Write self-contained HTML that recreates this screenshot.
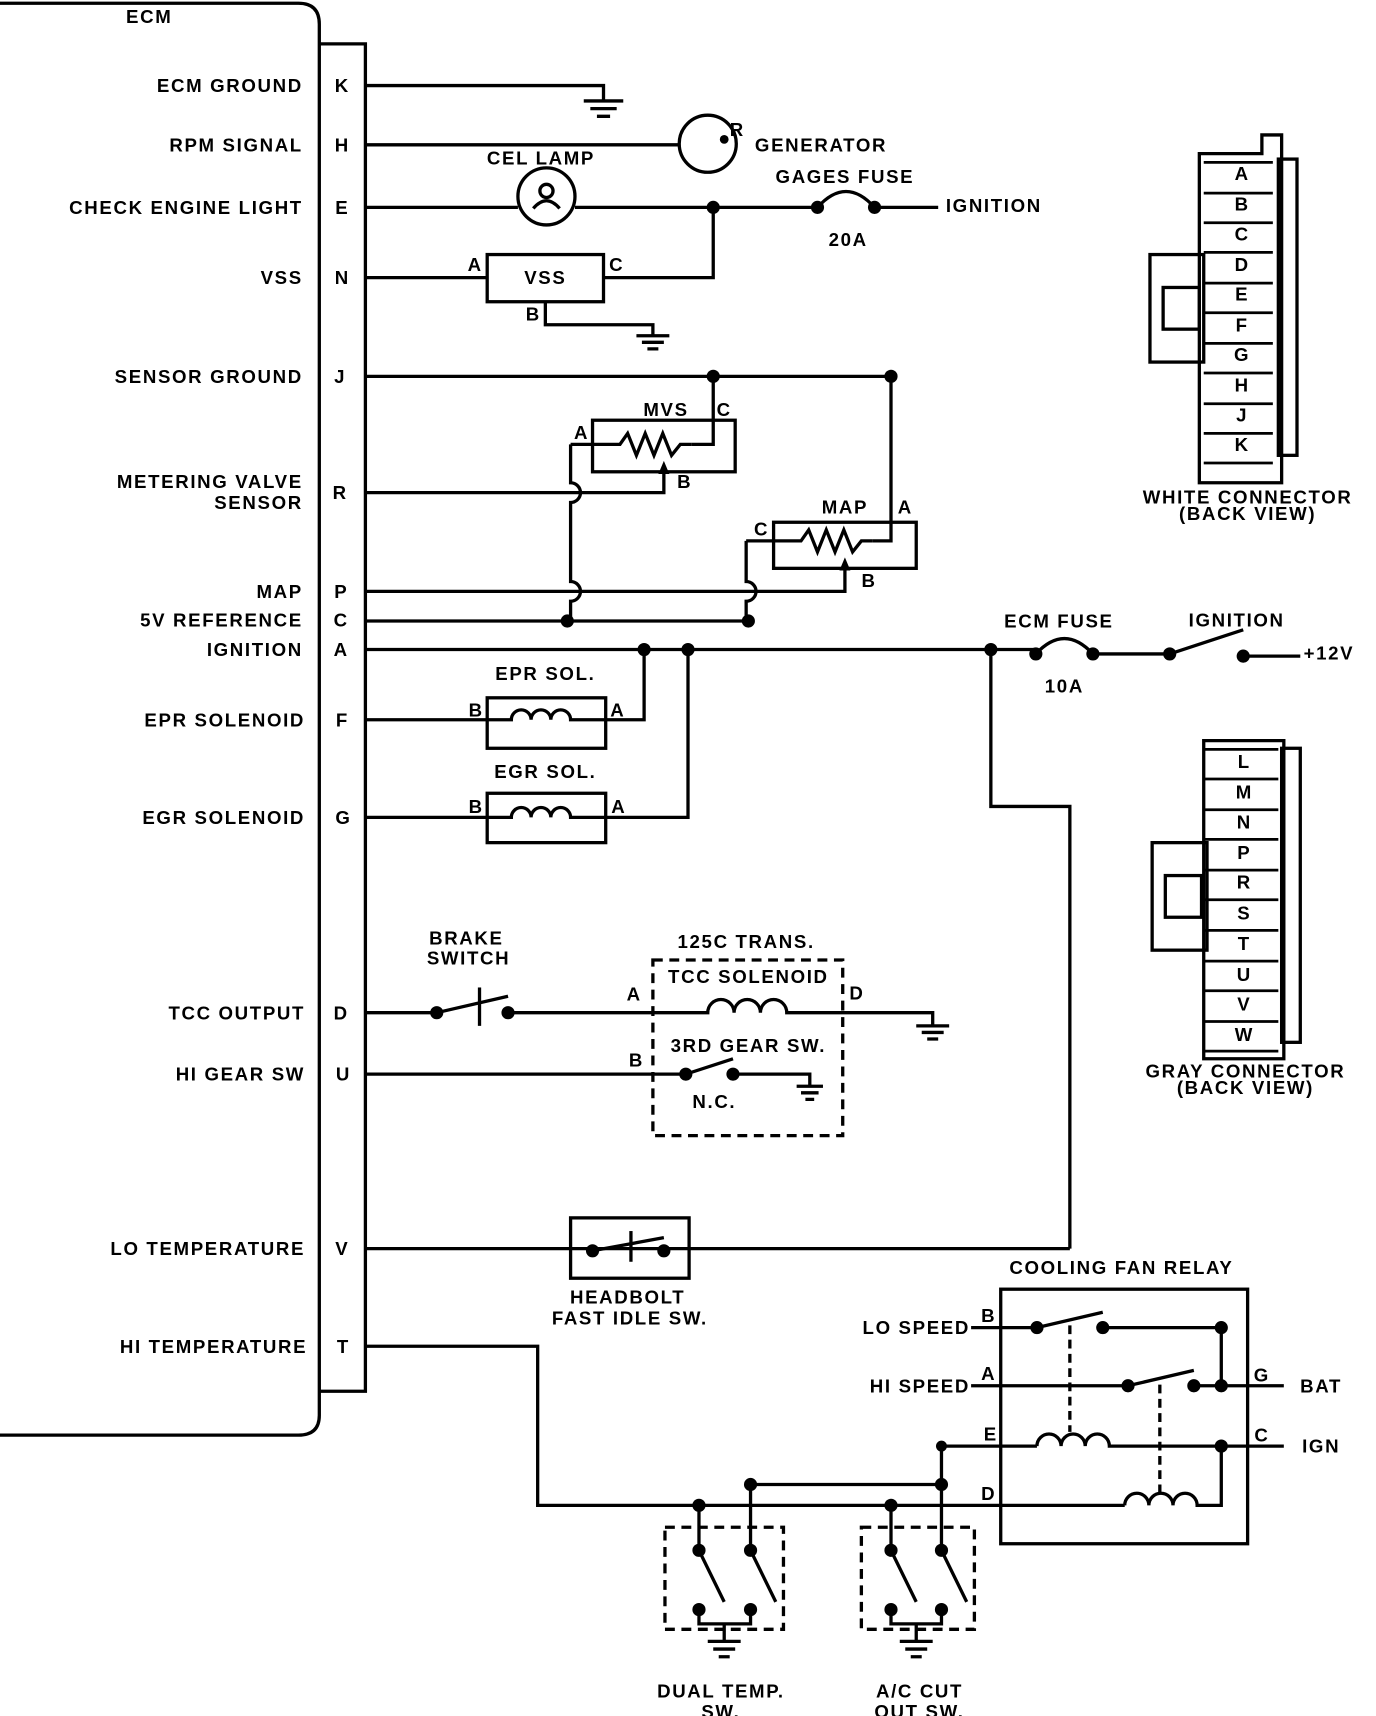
<!DOCTYPE html>
<html><head><meta charset="utf-8"><style>
html,body{margin:0;padding:0;background:#fff;}
svg{display:block}
text{font-family:"Liberation Sans",Arial,sans-serif;font-weight:bold;fill:#000;font-size:17px;letter-spacing:1.5px}
.l{text-anchor:end}
.m{text-anchor:middle}
</style></head><body>
<svg width="1376" height="1716" viewBox="0 0 1254 1564" preserveAspectRatio="none" xmlns="http://www.w3.org/2000/svg">
<g fill="none" stroke="#000" stroke-width="3">
<path d="M0 3 H272 Q291 3 291 22 V1290 Q291 1308 272 1308 H0"/>
<path d="M291 40 H333 V1268 H291"/>
<path d="M333 78 H550 V92"/><path d="M532 92 H568 M538 99 H562 M544 106 H556"/>
<path d="M333 132 H620"/><circle cx="645" cy="131" r="26"/>
<path d="M333 189 H472"/><circle cx="498" cy="179" r="26"/>
<circle cx="498" cy="174" r="6"/><path d="M486 190 Q498 176 510 190"/>
<path d="M524 189 H745"/><path d="M745 189 Q771 160 797 189"/><path d="M797 189 H855"/>
<path d="M333 253 H444"/><rect x="444" y="232" width="106" height="43"/>
<path d="M550 253 H650 V189"/><path d="M497 275 V296 H595 V306"/>
<path d="M580 306 H610 M585 312 H605 M590 318 H600"/>
<path d="M333 343 H812 V493 H795"/><path d="M650 343 V405 H630"/>
<rect x="540" y="383" width="130" height="47"/>
<path d="M520 405 H565 l7 -10 l8 20 l8 -20 l8 20 l8 -20 l8 20 l8 -10 H630"/>
<path d="M520 405 V440 a9 9 0 0 1 0 18 V530 a9 9 0 0 1 0 18 V566"/>
<path d="M333 449 H605 V430"/>
<rect x="705" y="476" width="130" height="42"/>
<path d="M680 493 H730 l7 -10 l8 20 l8 -20 l8 20 l8 -20 l8 20 l8 -10 H795"/>
<path d="M680 493 V530 a9 9 0 0 1 0 18 V566"/>
<path d="M333 539 H770 V518"/>
<path d="M333 566 H682"/>
<path d="M333 592 H944"/><path d="M944 596 Q970 568 996 596"/><path d="M996 596 H1066"/>
<path d="M1066 596 L1133 574"/><path d="M1133 598 H1185"/>
<path d="M903 592 V735 H975 V1138"/>
<path d="M333 656 H444"/><rect x="444" y="636" width="108" height="46"/>
<path d="M444 656 H466 a9 9 0 0 1 18 0 a9 9 0 0 1 18 0 a9 9 0 0 1 18 0 H552"/>
<path d="M552 656 H587 V592"/>
<path d="M333 745 H444"/><rect x="444" y="723" width="108" height="45"/>
<path d="M444 745 H466 a9 9 0 0 1 18 0 a9 9 0 0 1 18 0 a9 9 0 0 1 18 0 H552"/>
<path d="M552 745 H627 V592"/>
<path d="M333 923 H398"/><path d="M398 923 L463 908"/><path d="M437 900 V935"/>
<path d="M463 923 H645 a12 12 0 0 1 24 0 a12 12 0 0 1 24 0 a12 12 0 0 1 24 0 H850 V935"/>
<path d="M835 935 H865 M840 941 H860 M845 947 H855"/>
<rect x="595" y="875" width="173" height="160" stroke-dasharray="9 6"/>
<path d="M333 979 H625 L668 965"/><path d="M668 979 H738 V990"/>
<path d="M726 990 H750 M730 996 H746 M734 1002 H742"/>
<path d="M333 1138 H975"/><rect x="520" y="1110" width="108" height="55"/>
<path d="M540 1140 L605 1128"/><path d="M575 1122 V1150"/>
<path d="M333 1227 H490 V1372 H1025"/>
<path d="M684 1353 H858 V1318 H945"/>
<path d="M637 1372 V1413 L660 1460 M637 1467 V1480 H684 V1467 M684 1353 V1413 L707 1460"/>
<path d="M660 1480 V1496 M645 1496 H675 M650 1503 H670 M655 1510 H665"/>
<rect x="606" y="1392" width="108" height="93" stroke-dasharray="9 6"/>
<path d="M812 1372 V1413 L835 1460 M812 1467 V1480 H858 V1467 M858 1353 V1413 L881 1460"/>
<path d="M835 1480 V1496 M820 1496 H850 M825 1503 H845 M830 1510 H840"/>
<rect x="785" y="1392" width="103" height="93" stroke-dasharray="9 6"/>
<rect x="912" y="1175" width="225" height="232"/>
<path d="M885 1210 H945 L1005 1196 M1005 1210 H1113 V1263"/>
<path d="M885 1263 H1028 L1088 1249 M1088 1263 H1170"/>
<path d="M945 1318 a11 11 0 0 1 22 0 a11 11 0 0 1 22 0 a11 11 0 0 1 22 0 H1170"/>
<path d="M1025 1372 a11 11 0 0 1 22 0 a11 11 0 0 1 22 0 a11 11 0 0 1 22 0 H1113 V1318"/>
<path d="M975 1208 V1305 M1057 1262 V1360" stroke-dasharray="8 5"/>
<path d="M1093 140 H1150 V123 H1168 V140 V440 H1093 Z"/>
<rect x="1165" y="145" width="17" height="270"/>
<rect x="1048" y="232" width="49" height="98"/><rect x="1060" y="262" width="33" height="38"/>
<path d="M1097 675 H1170 V965 H1097 Z"/>
<rect x="1168" y="682" width="17" height="268"/>
<rect x="1050" y="768" width="50" height="98"/><rect x="1062" y="798" width="33" height="38"/>
</g>
<g fill="none" stroke="#000" stroke-width="2.5">
<path d="M1097 148 H1160 M1097 176 H1160 M1097 203 H1160 M1097 230 H1160 M1097 258 H1160 M1097 285 H1160 M1097 313 H1160 M1097 340 H1160 M1097 368 H1160 M1097 395 H1160 M1097 422 H1160"/>
<path d="M1097 683 H1165 M1097 710 H1165 M1097 738 H1165 M1097 765 H1165 M1097 793 H1165 M1097 820 H1165 M1097 848 H1165 M1097 876 H1165 M1097 903 H1165 M1097 931 H1165 M1097 958 H1165"/>
</g>
<g fill="#000">
<circle cx="660" cy="127" r="4"/>
<circle cx="745" cy="189" r="6"/><circle cx="797" cy="189" r="6"/><circle cx="650" cy="189" r="6"/>
<circle cx="650" cy="343" r="6"/><circle cx="812" cy="343" r="6"/>
<circle cx="517" cy="566" r="6"/><circle cx="682" cy="566" r="6"/>
<circle cx="587" cy="592" r="6"/><circle cx="627" cy="592" r="6"/><circle cx="903" cy="592" r="6"/>
<circle cx="944" cy="596" r="6"/><circle cx="996" cy="596" r="6"/><circle cx="1066" cy="596" r="6"/><circle cx="1133" cy="598" r="6"/>
<path d="M600 432 L605 420 L610 432Z"/><path d="M765 520 L770 508 L775 520Z"/>
<circle cx="398" cy="923" r="6"/><circle cx="463" cy="923" r="6"/>
<circle cx="625" cy="979" r="6"/><circle cx="668" cy="979" r="6"/>
<circle cx="540" cy="1140" r="6"/><circle cx="605" cy="1140" r="6"/>
<circle cx="637" cy="1372" r="6"/><circle cx="812" cy="1372" r="6"/><circle cx="684" cy="1353" r="6"/><circle cx="858" cy="1353" r="6"/>
<circle cx="637" cy="1413" r="6"/><circle cx="637" cy="1467" r="6"/><circle cx="684" cy="1413" r="6"/><circle cx="684" cy="1467" r="6"/>
<circle cx="812" cy="1413" r="6"/><circle cx="812" cy="1467" r="6"/><circle cx="858" cy="1413" r="6"/><circle cx="858" cy="1467" r="6"/>
<circle cx="945" cy="1210" r="6"/><circle cx="1005" cy="1210" r="6"/><circle cx="1113" cy="1210" r="6"/>
<circle cx="1028" cy="1263" r="6"/><circle cx="1088" cy="1263" r="6"/><circle cx="1113" cy="1263" r="6"/>
<circle cx="1113" cy="1318" r="6"/><circle cx="858" cy="1318" r="5"/>
</g>
<text x="136" y="21" class="m">ECM</text>
<text x="276" y="84" class="l">ECM GROUND</text>
<text x="276" y="138" class="l">RPM SIGNAL</text>
<text x="276" y="195" class="l">CHECK ENGINE LIGHT</text>
<text x="276" y="259" class="l">VSS</text>
<text x="276" y="349" class="l">SENSOR GROUND</text>
<text x="276" y="445" class="l">METERING VALVE</text>
<text x="276" y="464" class="l">SENSOR</text>
<text x="276" y="545" class="l">MAP</text>
<text x="276" y="571" class="l">5V REFERENCE</text>
<text x="276" y="598" class="l">IGNITION</text>
<text x="278" y="662" class="l">EPR SOLENOID</text>
<text x="278" y="751" class="l">EGR SOLENOID</text>
<text x="278" y="929" class="l">TCC OUTPUT</text>
<text x="278" y="985" class="l">HI GEAR SW</text>
<text x="278" y="1144" class="l">LO TEMPERATURE</text>
<text x="280" y="1233" class="l">HI TEMPERATURE</text>
<text x="312" y="84" class="m">K</text><text x="312" y="138" class="m">H</text><text x="312" y="195" class="m">E</text>
<text x="312" y="259" class="m">N</text><text x="310" y="349" class="m">J</text><text x="310" y="455" class="m">R</text>
<text x="311" y="545" class="m">P</text><text x="311" y="571" class="m">C</text><text x="311" y="598" class="m">A</text>
<text x="312" y="662" class="m">F</text><text x="313" y="751" class="m">G</text><text x="311" y="929" class="m">D</text>
<text x="313" y="985" class="m">U</text><text x="312" y="1144" class="m">V</text><text x="313" y="1233" class="m">T</text>
<text x="665" y="124" font-size="13">R</text>
<text x="688" y="138">GENERATOR</text>
<text x="493" y="150" class="m">CEL LAMP</text>
<text x="770" y="167" class="m">GAGES FUSE</text>
<text x="773" y="224" class="m">20A</text>
<text x="862" y="193">IGNITION</text>
<text x="433" y="247" class="m">A</text><text x="562" y="247" class="m">C</text><text x="486" y="292" class="m">B</text>
<text x="497" y="259" class="m">VSS</text>
<text x="607" y="379" class="m">MVS</text><text x="660" y="379" class="m">C</text><text x="530" y="400" class="m">A</text><text x="624" y="445" class="m">B</text>
<text x="770" y="468" class="m">MAP</text><text x="825" y="468" class="m">A</text><text x="694" y="488" class="m">C</text><text x="792" y="535" class="m">B</text>
<text x="965" y="572" class="m">ECM FUSE</text><text x="970" y="631" class="m">10A</text>
<text x="1127" y="571" class="m">IGNITION</text><text x="1188" y="601">+12V</text>
<text x="497" y="620" class="m">EPR SOL.</text><text x="434" y="653" class="m">B</text><text x="563" y="653" class="m">A</text>
<text x="497" y="709" class="m">EGR SOL.</text><text x="434" y="741" class="m">B</text><text x="564" y="741" class="m">A</text>
<text x="425" y="861" class="m">BRAKE</text><text x="427" y="879" class="m">SWITCH</text>
<text x="680" y="864" class="m">125C TRANS.</text><text x="682" y="896" class="m">TCC SOLENOID</text>
<text x="578" y="912" class="m">A</text><text x="781" y="911" class="m">D</text>
<text x="682" y="959" class="m">3RD GEAR SW.</text><text x="580" y="972" class="m">B</text><text x="651" y="1010" class="m">N.C.</text>
<text x="572" y="1188" class="m">HEADBOLT</text><text x="574" y="1207" class="m">FAST IDLE SW.</text>
<text x="1022" y="1161" class="m">COOLING FAN RELAY</text>
<text x="884" y="1216" class="l">LO SPEED</text><text x="901" y="1205" class="m">B</text>
<text x="884" y="1269" class="l">HI SPEED</text><text x="901" y="1258" class="m">A</text>
<text x="903" y="1313" class="m">E</text><text x="901" y="1367" class="m">D</text>
<text x="1150" y="1259" class="m">G</text><text x="1150" y="1314" class="m">C</text>
<text x="1204" y="1269" class="m">BAT</text><text x="1204" y="1324" class="m">IGN</text>
<text x="657" y="1547" class="m">DUAL TEMP.</text><text x="657" y="1566" class="m">SW.</text>
<text x="838" y="1547" class="m">A/C CUT</text><text x="838" y="1566" class="m">OUT SW.</text>
<g>
<text x="1132" y="164" class="m" font-size="14">A</text><text x="1132" y="192" class="m" font-size="14">B</text><text x="1132" y="219" class="m" font-size="14">C</text>
<text x="1132" y="247" class="m" font-size="14">D</text><text x="1132" y="274" class="m" font-size="14">E</text><text x="1132" y="302" class="m" font-size="14">F</text>
<text x="1132" y="329" class="m" font-size="14">G</text><text x="1132" y="357" class="m" font-size="14">H</text><text x="1132" y="384" class="m" font-size="14">J</text>
<text x="1132" y="411" class="m" font-size="14">K</text>
<text x="1134" y="700" class="m" font-size="14">L</text><text x="1134" y="728" class="m" font-size="14">M</text><text x="1134" y="755" class="m" font-size="14">N</text>
<text x="1134" y="783" class="m" font-size="14">P</text><text x="1134" y="810" class="m" font-size="14">R</text><text x="1134" y="838" class="m" font-size="14">S</text>
<text x="1134" y="866" class="m" font-size="14">T</text><text x="1134" y="894" class="m" font-size="14">U</text><text x="1134" y="921" class="m" font-size="14">V</text>
<text x="1134" y="949" class="m" font-size="14">W</text>
</g>
<text x="1137" y="459" class="m" font-size="12" letter-spacing="1">WHITE CONNECTOR</text><text x="1137" y="474" class="m" font-size="12" letter-spacing="1">(BACK VIEW)</text>
<text x="1135" y="982" class="m" font-size="12" letter-spacing="1">GRAY CONNECTOR</text><text x="1135" y="997" class="m" font-size="12" letter-spacing="1">(BACK VIEW)</text>
</svg>
</body></html>
